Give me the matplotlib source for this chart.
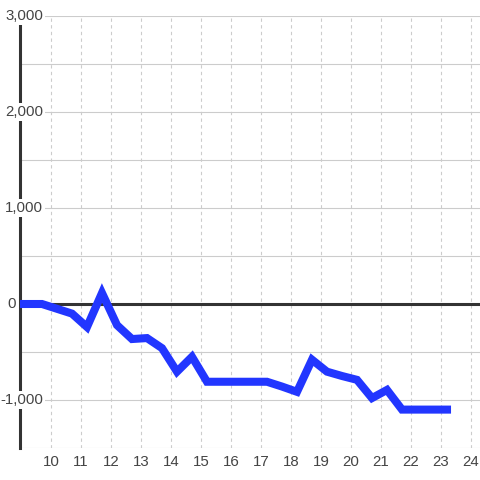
import matplotlib
matplotlib.use("Agg")
import matplotlib.pyplot as plt
import matplotlib.transforms as mtransforms

# data
x_vals = [8.7, 9.2, 9.7, 10.2, 10.7, 11.2, 11.7, 12.2, 12.7, 13.2, 13.7, 14.2, 14.7,
          15.2, 15.7, 16.2, 16.7, 17.2, 17.7, 18.2, 18.7, 19.2, 19.7, 20.2, 20.7,
          21.2, 21.7, 22.2, 22.7, 23.2]
y_vals = [0, 0, 0, -50, -100, -240, 115, -220, -365, -355, -460, -705, -550,
          -810, -810, -810, -810, -810, -860, -915, -580, -705, -750, -790, -980,
          -895, -1100, -1100, -1100, -1100]
x_ticks = list(range(10, 25))
y_ticks = [-1000, 0, 1000, 2000, 3000]
y_tick_labels = ["-1,000", "0", "1,000", "2,000", "3,000"]
y_grid = [-1500, -1000, -500, 0, 500, 1000, 1500, 2000, 2500, 3000]

DPI = 100
fig = plt.figure(figsize=(4.8, 4.8), dpi=DPI)
fig.patch.set_facecolor("white")
ax = fig.add_axes([20/480, 32/480, 460/480, 432/480])
ax.set_xlim(8.967, 24.3)
ax.set_ylim(-1500, 3000)

FAM = ['Liberation Sans', 'DejaVu Sans']
FS = 10.8

for s in ["top", "right", "bottom"]:
    ax.spines[s].set_visible(False)
ax.spines["left"].set_color("#333333")
ax.spines["left"].set_linewidth(2.2)
ax.spines["left"].set_zorder(3)

for g in y_grid:
    ax.axhline(g, color="#cccccc", lw=0.8, zorder=1)
for xt in x_ticks:
    ax.axvline(xt, color="#cccccc", lw=0.8, ls=(0, (3, 3)), zorder=1)

ax.axhline(0, color="#333333", lw=2.2, zorder=4)

ax.plot(x_vals, y_vals, color="#2236ff", lw=5.8, solid_joinstyle="miter",
        solid_capstyle="projecting", zorder=5, clip_on=True)

ax.set_yticks([])
ax.set_xticks(x_ticks)
ax.set_xticklabels([str(t) for t in x_ticks], fontsize=FS, color="#444444", family=FAM)
ax.tick_params(axis="x", length=0, pad=5)

for v, lab in zip(y_ticks, y_tick_labels):
    dx = -4 if lab == "0" else 23
    trans = ax.get_yaxis_transform() + mtransforms.ScaledTranslation(dx/DPI, 0, fig.dpi_scale_trans)
    ax.text(0, v, lab, transform=trans, ha="right", va="center", fontsize=FS,
            color="#444444", family=FAM, zorder=6,
            bbox=dict(boxstyle="square,pad=0.12", fc="white", ec="none"), clip_on=False)

fig.savefig("out.png", dpi=DPI)
